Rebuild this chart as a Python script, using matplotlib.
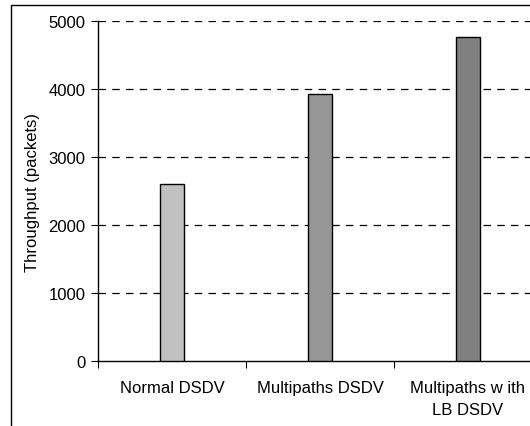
import matplotlib
matplotlib.use("Agg")
import matplotlib.pyplot as plt
from matplotlib.patches import Rectangle

categories = ["Normal DSDV", "Multipaths DSDV", "Multipaths w ith\nLB DSDV"]
values = [2600, 3930, 4760]
colors = ["#C0C0C0", "#969696", "#808080"]
yticks = [0, 1000, 2000, 3000, 4000, 5000]

plt.rcParams['font.family'] = ['Liberation Sans', 'DejaVu Sans']

W, H = 530, 427
fig = plt.figure(figsize=(W/100, H/100), dpi=100)
ax = fig.add_axes([98/W, 1-362/H, 444/W, 340/H])

x = [i + 0.5 for i in range(len(categories))]
ax.bar(x, values, width=0.16, color=colors, edgecolor="black", linewidth=1.0, zorder=3)

ax.set_xlim(0, 3)
ax.set_ylim(0, 5000)
ax.set_yticks(yticks)
ax.set_yticklabels([str(v) for v in yticks], fontsize=12)
ax.set_xticks([0, 1, 2, 3])
ax.set_xticklabels([])
ax.set_xticks(x, minor=True)
ax.set_xticklabels(categories, minor=True, fontsize=12, linespacing=1.55)
ax.tick_params(axis='x', which='minor', length=0, pad=14)
ax.tick_params(axis='x', which='major', length=5, direction='out')
ax.tick_params(axis='y', length=5, direction='out', pad=4)

for v in yticks[1:]:
    ax.axhline(v, color="black", linestyle=(0, (6, 5)), linewidth=0.9, zorder=1)

ax.spines['top'].set_visible(False)
ax.spines['right'].set_visible(False)
ax.spines['left'].set_linewidth(1.0)
ax.spines['bottom'].set_linewidth(1.0)

ax.set_ylabel("Throughput (packets)", fontsize=12, labelpad=6)

fig.patches.append(Rectangle((11/W, -0.5), 1.5, 1.5 - 6/H, transform=fig.transFigure,
                             fill=False, edgecolor="black", linewidth=1.0, clip_on=False))

fig.savefig("out.png", dpi=100)
